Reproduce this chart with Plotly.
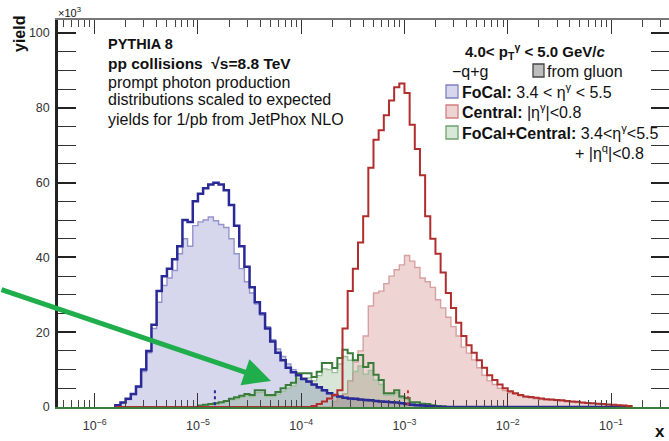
import numpy as np
import plotly.graph_objects as go

# ---------------- data ----------------
LOG_X_START = -5.80   # first bin edge, log10(x)
BIN_WIDTH = 0.05      # bin width in log10(x)
N_BINS = 100

focal_qg = [0.5, 1.2, 2.2, 3.5, 5.5, 10, 15, 22, 31, 35,
            37, 39.5, 43, 50, 49.5, 55, 57, 58.5, 59.5, 60,
            59.5, 58, 54, 48.5, 43, 37.5, 32, 28, 25, 21,
            17.5, 14.5, 12.5, 10.5, 9.3, 8.5, 7.5, 6.8, 6, 5.3,
            4.5, 3.7, 3.2, 2.8, 2.5, 2.3, 2.2, 2.0, 1.9, 1.8,
            1.6, 1.5, 1.4, 1.3, 1.2, 1.0, 0.8, 0.6, 0.5, 0.4,
            0.3, 0.2, 0.1, 0, 0, 0, 0, 0, 0, 0,
            0, 0, 0, 0, 0, 0, 0, 0, 0, 0,
            0, 0, 0, 0, 0, 0, 0, 0, 0, 0,
            0, 0, 0, 0, 0, 0, 0, 0, 0, 0]

focal_gluon = [0.4, 1.1, 2.0, 3.3, 5.2, 9.5, 14.5, 21, 28, 32.5,
               34.5, 36.5, 41, 45, 43, 48.5, 49.5, 50, 50.8, 49.8,
               48.8, 48, 45, 41, 37, 33.5, 30.5, 27.5, 24.5, 21.5,
               18, 15.5, 13.5, 11.5, 10, 8.7, 7.5, 6.6, 5.8, 5.0,
               4.3, 3.5, 3.0, 2.6, 2.3, 2.1, 2.0, 1.8, 1.7, 1.6,
               1.5, 1.4, 1.3, 1.2, 1.1, 0.9, 0.7, 0.5, 0.4, 0.3,
               0.2, 0.2, 0.1, 0, 0, 0, 0, 0, 0, 0,
               0, 0, 0, 0, 0, 0, 0, 0, 0, 0,
               0, 0, 0, 0, 0, 0, 0, 0, 0, 0,
               0, 0, 0, 0, 0, 0, 0, 0, 0, 0]

central_qg = [0, 0, 0, 0, 0, 0, 0, 0, 0, 0,
              0, 0, 0, 0, 0, 0, 0, 0, 0, 0,
              0, 0, 0, 0, 0, 0, 0, 0, 0, 0,
              0, 0, 0, 0, 0, 0, 0, 0, 0.3, 0.8,
              1.5, 2.3, 3.2, 4.5, 21, 31, 37, 44, 51, 64,
              71.5, 74, 78, 82, 85.5, 86.5, 84, 75.5, 69, 62,
              51, 45, 41, 36, 30.5, 26.5, 22.5, 19, 16.5, 14.5,
              12.5, 10.5, 8.5, 7.2, 6, 5, 4.2, 3.7, 3.2, 2.8,
              2.7, 2.5, 2.3, 2.1, 2.0, 1.9, 1.8, 1.6, 1.5, 1.4,
              1.2, 1.1, 1.0, 0.9, 0.8, 0.7, 0.6, 0.5, 0.4, 0.3]

central_gluon = [0, 0, 0, 0, 0, 0, 0, 0, 0, 0,
                 0, 0, 0, 0, 0, 0, 0, 0, 0, 0,
                 0, 0, 0, 0, 0, 0, 0, 0, 0, 0,
                 0, 0, 0, 0, 0, 0, 0, 0, 0, 0,
                 0, 0, 1.5, 2.5, 3.5, 7, 12, 15, 19, 27,
                 30.5, 31, 33, 35, 36.7, 38, 40.5, 39, 37.3, 34.5,
                 33.5, 32, 28.7, 26.5, 24, 21.5, 19, 16, 14.4, 12.6,
                 10.5, 8.5, 7, 6, 5, 4.4, 3.8, 3.4, 3.0, 2.6,
                 2.4, 2.2, 2.0, 1.9, 1.8, 1.7, 1.6, 1.4, 1.3, 1.2,
                 1.1, 1.0, 0.9, 0.8, 0.7, 0.6, 0.5, 0.5, 0.4, 0.3]

combined_qg = [0, 0, 0, 0, 0, 0, 0, 0, 0, 0,
               0, 0, 0, 0, 0, 0, 0.4, 0.6, 0.8, 1.0,
               1.3, 1.6, 2.2, 2.6, 3.0, 3.5, 3.2, 4.5, 4.5, 3.2,
               3.2, 4.0, 5.0, 5.9, 6.5, 9.0, 9.0, 9.0, 8.0, 9.4,
               11.8, 11.8, 10.4, 13.1, 15.3, 14.4, 12.5, 13.9, 10.7, 11.8,
               8.6, 7.2, 3.7, 3.7, 4.5, 2.8, 2.4, 1.3, 1.3, 0.9,
               0.8, 0.5, 0.3, 0.2, 0, 0, 0, 0, 0, 0,
               0, 0, 0, 0, 0, 0, 0, 0, 0, 0,
               0, 0, 0, 0, 0, 0, 0, 0, 0, 0,
               0, 0, 0, 0, 0, 0, 0, 0, 0, 0]

combined_gluon = [0, 0, 0, 0, 0, 0, 0, 0, 0, 0,
                  0, 0, 0, 0, 0, 0, 0.3, 0.5, 0.7, 0.9,
                  1.1, 1.4, 1.9, 2.2, 2.6, 3.0, 2.8, 3.8, 3.9, 2.8,
                  2.8, 3.4, 4.2, 5.0, 5.6, 7.6, 7.8, 7.8, 7.0, 8.4,
                  10.2, 10.0, 9.2, 11.5, 13.5, 12.5, 9.5, 11.0, 8.8, 9.8,
                  7.2, 6.0, 3.2, 3.2, 3.8, 2.4, 2.0, 1.1, 1.1, 0.8,
                  0.7, 0.4, 0.2, 0.1, 0, 0, 0, 0, 0, 0,
                  0, 0, 0, 0, 0, 0, 0, 0, 0, 0,
                  0, 0, 0, 0, 0, 0, 0, 0, 0, 0,
                  0, 0, 0, 0, 0, 0, 0, 0, 0, 0]

mean_x_focal = 1.46e-5
mean_x_central = 1.08e-3
mean_marker_y = [0.5, 4.5]

x_tick_exponents = [-6, -5, -4, -3, -2, -1]
x_tick_labels = ["10<sup>−6</sup>", "10<sup>−5</sup>", "10<sup>−4</sup>",
                 "10<sup>−3</sup>", "10<sup>−2</sup>", "10<sup>−1</sup>"]
y_tick_values = [0, 20, 40, 60, 80, 100]

# ---------------- helpers ----------------
edges = 10 ** (LOG_X_START + BIN_WIDTH * np.arange(N_BINS + 1))


def step_xy(values):
    xs = [edges[0]] + list(edges)
    ys = [0] + list(values) + [0]
    return xs, ys


# pixel -> paper conversion for the plot area (58..669 x, 20..407 y)
PL, PR, PT, PB = 58, 669, 20, 407


def px(x):
    return (x - PL) / (PR - PL)


def py(y):
    return (PB - y) / (PB - PT)


FONT = "Liberation Sans, Arial, Helvetica, sans-serif"

BLUE = "#2a2a96"
BLUE_L = "#9494cc"
BLUE_F = "rgba(70,70,170,0.22)"
RED = "#b02e2e"
RED_L = "#d6a0a0"
RED_F = "rgba(180,60,60,0.22)"
GREEN = "#3a7d3a"
GREEN_L = "#9cc09c"
GREEN_F = "rgba(60,130,60,0.20)"

X_RANGE = [-6.355, -0.4385]

fig = go.Figure()

for vals, lc, fc in [(focal_gluon, BLUE_L, BLUE_F),
                     (central_gluon, RED_L, RED_F),
                     (combined_gluon, GREEN_L, GREEN_F)]:
    xs, ys = step_xy(vals)
    fig.add_trace(go.Scatter(x=xs, y=ys, mode="lines", line=dict(color=lc, width=1.4, shape="hv"),
                             fill="tozeroy", fillcolor=fc, hoverinfo="skip", showlegend=False))

for vals, lc, w in [(combined_qg, GREEN, 2.0),
                    (focal_qg, BLUE, 2.5),
                    (central_qg, RED, 2.0)]:
    xs, ys = step_xy(vals)
    fig.add_trace(go.Scatter(x=xs, y=ys, mode="lines", line=dict(color=lc, width=w, shape="hv"),
                             hoverinfo="skip", showlegend=False))

for mx, col in [(mean_x_focal, BLUE), (mean_x_central, "#d03030")]:
    fig.add_trace(go.Scatter(x=[mx, mx], y=mean_marker_y, mode="lines",
                             line=dict(color=col, width=2, dash="dot"), showlegend=False,
                             hoverinfo="skip"))

# invisible trace that activates the top (frame) axis
fig.add_trace(go.Scatter(x=[edges[0]], y=[0], xaxis="x2", mode="markers",
                         marker=dict(opacity=0), hoverinfo="skip", showlegend=False))

annotations = []


def txt(text, x, y, size=15, anchor="left", color="#111", **kw):
    annotations.append(dict(text=text, x=px(x), y=py(y), xref="paper", yref="paper",
                            xanchor=anchor, yanchor="middle", showarrow=False,
                            font=dict(family=FONT, size=size, color=color), **kw))


txt("<b>PYTHIA 8</b>", 106, 44, size=14.5)
txt("<b>pp collisions  √s=8.8 TeV</b>", 106, 63, size=15.5)
txt("prompt photon production", 106, 82, size=16)
txt("distributions scaled to expected", 106, 100, size=16)
txt("yields for 1/pb from JetPhox NLO", 106, 119, size=16)

txt("<b>4.0< p<sub>T</sub><sup>γ</sup> < 5.0 GeV/<i>c</i></b>", 535, 52, size=15, anchor="center")
txt("−q+g", 450, 71, size=16)
txt("from gluon", 545, 71, size=16)
txt("<b>FoCal:</b> 3.4 < η<sup>γ</sup> < 5.5", 460, 91, size=16)
txt("<b>Central:</b> |η<sup>γ</sup>|<0.8", 460, 111, size=16)
txt("<b>FoCal+Central:</b> 3.4<η<sup>γ</sup><5.5", 460, 132, size=16)
txt("+ |η<sup>q</sup>|<0.8", 646, 152, size=16, anchor="right")

txt("<b>yield</b>", 19, 34, size=16, anchor="center", textangle=-90)
txt("×10<sup>3</sup>", 56, 12, size=11)
txt("<b>x</b>", 660, 431, size=17, anchor="center")

annotations.append(dict(text="", x=px(271), y=py(381), xref="paper", yref="paper",
                        ax=-280, ay=-92, showarrow=True, arrowhead=2, arrowsize=1.1,
                        arrowwidth=5, arrowcolor="#1fae4b", standoff=0))

shapes = []


def box(x0, y0, x1, y1, fill, line):
    shapes.append(dict(type="rect", xref="paper", yref="paper",
                       x0=px(x0), x1=px(x1), y0=py(y1), y1=py(y0),
                       fillcolor=fill, line=dict(color=line, width=1.3)))


box(533, 64, 544, 77, "#bdbdbd", "#444444")
box(446, 85, 458, 98, "#d6d6ec", "#8080c0")
box(446, 105, 458, 118, "#eed3d3", "#d08080")
box(446, 126, 458, 139, "#d8e8d8", "#70a070")

tick_common = dict(type="log", range=X_RANGE, tickmode="array",
                   tickvals=[10.0 ** e for e in x_tick_exponents],
                   ticks="inside", ticklen=14, tickwidth=1.2, tickcolor="#333",
                   minor=dict(ticks="inside", ticklen=7, tickwidth=1, tickcolor="#444", dtick="D1"),
                   showgrid=False, zeroline=False, layer="above traces", automargin=False)

fig.update_layout(
    width=669, height=441,
    margin=dict(l=PL, r=669 - PR, t=PT, b=441 - PB, autoexpand=False),
    paper_bgcolor="white", plot_bgcolor="white",
    font=dict(family=FONT, color="#333"),
    annotations=annotations, shapes=shapes,
    showlegend=False,
    xaxis=dict(**tick_common, ticktext=x_tick_labels,
               showline=True, linecolor=GREEN, linewidth=2, mirror=False,
               tickfont=dict(size=12.5, color="#333", family=FONT), ticklabelstandoff=6),
    xaxis2=dict(**tick_common, overlaying="x", side="top", showticklabels=False,
                showline=True, linecolor="#777777", linewidth=1.5),
    yaxis=dict(range=[0, 103.5], tickmode="array", tickvals=y_tick_values,
               ticks="inside", ticklen=18, tickwidth=1.6, tickcolor="#222",
               minor=dict(ticks="inside", ticklen=9, tickwidth=1.2, tickcolor="#333", dtick=5),
               showline=True, linecolor="#222", linewidth=2.5, mirror="allticks",
               showgrid=False, zeroline=False, layer="above traces", automargin=False,
               tickfont=dict(size=12.5, color="#333", family=FONT), ticklabelstandoff=3),
)

fig.write_html("out.html", config={"displayModeBar": False},
               post_script="document.body.style.margin='0px';")
